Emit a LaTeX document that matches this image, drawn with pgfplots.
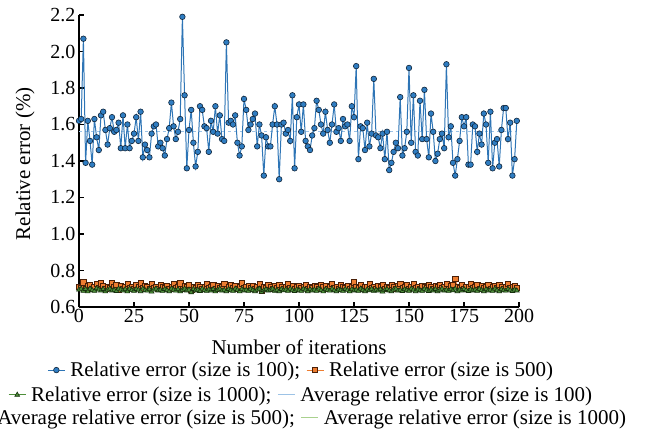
\documentclass[border=0pt]{standalone}
\usepackage{pgfplots}
\usepackage{pgfplotstable}
\pgfplotsset{compat=1.18}
\usepackage{fontspec}
\setmainfont{Liberation Serif}
\definecolor{cA}{HTML}{2E75B6}
\definecolor{cAm}{HTML}{2F7DC2}
\definecolor{cAd}{HTML}{10253A}
\definecolor{cB}{HTML}{ED7D31}
\definecolor{cBd}{HTML}{4A2008}
\definecolor{cC}{HTML}{4E8F3A}
\definecolor{cCd}{HTML}{16300E}
\definecolor{aA}{HTML}{9DC3E6}
\definecolor{aB}{HTML}{F4B183}
\definecolor{aC}{HTML}{A9D18E}
\newcommand{\tickf}{\fontsize{20bp}{24bp}\selectfont}
\newcommand{\bigf}{\fontsize{21bp}{24bp}\selectfont}
\pgfplotstableread{
i e100 e500 e1000
0 1.62 0.710 0.695
1 1.63 0.705 0.700
2 2.07 0.735 0.688
3 1.39 0.700 0.698
4 1.62 0.715 0.685
5 1.51 0.720 0.700
6 1.38 0.700 0.692
7 1.63 0.710 0.688
8 1.53 0.725 0.702
9 1.46 0.705 0.695
10 1.65 0.730 0.690
11 1.67 0.715 0.698
12 1.57 0.700 0.685
13 1.49 0.712 0.695
14 1.58 0.705 0.700
15 1.64 0.730 0.690
16 1.56 0.710 0.693
17 1.57 0.720 0.687
18 1.61 0.695 0.700
19 1.47 0.715 0.695
20 1.65 0.700 0.690
21 1.47 0.710 0.697
22 1.60 0.725 0.685
23 1.47 0.705 0.700
24 1.51 0.712 0.692
25 1.55 0.700 0.688
26 1.64 0.720 0.698
27 1.51 0.708 0.694
28 1.67 0.730 0.686
29 1.42 0.702 0.700
30 1.49 0.715 0.692
31 1.46 0.710 0.689
32 1.42 0.700 0.697
33 1.55 0.725 0.684
34 1.59 0.705 0.695
35 1.60 0.712 0.700
36 1.48 0.698 0.690
37 1.50 0.720 0.694
38 1.47 0.710 0.688
39 1.43 0.705 0.698
40 1.52 0.718 0.692
41 1.58 0.700 0.686
42 1.72 0.712 0.700
43 1.59 0.725 0.694
44 1.52 0.705 0.689
45 1.56 0.710 0.697
46 1.63 0.730 0.685
47 2.19 0.700 0.693
48 1.76 0.715 0.700
49 1.36 0.708 0.690
50 1.57 0.720 0.695
51 1.68 0.695 0.680
52 1.50 0.710 0.698
53 1.37 0.705 0.690
54 1.45 0.720 0.694
55 1.70 0.712 0.687
56 1.68 0.700 0.700
57 1.59 0.710 0.692
58 1.58 0.725 0.688
59 1.45 0.705 0.696
60 1.62 0.710 0.690
61 1.56 0.720 0.698
62 1.70 0.700 0.685
63 1.55 0.715 0.694
64 1.65 0.705 0.700
65 1.52 0.712 0.689
66 1.51 0.728 0.693
67 2.05 0.700 0.686
68 1.61 0.710 0.698
69 1.62 0.720 0.692
70 1.60 0.705 0.688
71 1.65 0.715 0.700
72 1.50 0.700 0.694
73 1.43 0.712 0.685
74 1.48 0.730 0.697
75 1.74 0.705 0.690
76 1.68 0.710 0.693
77 1.57 0.718 0.688
78 1.60 0.702 0.699
79 1.63 0.715 0.692
80 1.66 0.700 0.686
81 1.48 0.710 0.695
82 1.60 0.725 0.700
83 1.54 0.690 0.683
84 1.32 0.712 0.692
85 1.53 0.705 0.697
86 1.48 0.720 0.689
87 1.48 0.710 0.694
88 1.60 0.700 0.700
89 1.70 0.715 0.688
90 1.60 0.705 0.693
91 1.30 0.720 0.686
92 1.60 0.712 0.698
93 1.61 0.700 0.691
94 1.55 0.710 0.695
95 1.57 0.725 0.688
96 1.51 0.705 0.700
97 1.76 0.715 0.692
98 1.36 0.700 0.687
99 1.64 0.710 0.696
100 1.71 0.718 0.692
101 1.56 0.705 0.688
102 1.71 0.710 0.699
103 1.51 0.720 0.694
104 1.48 0.700 0.686
105 1.46 0.712 0.697
106 1.54 0.705 0.690
107 1.58 0.715 0.695
108 1.73 0.710 0.688
109 1.68 0.700 0.700
110 1.60 0.720 0.692
111 1.55 0.708 0.685
112 1.67 0.715 0.697
113 1.57 0.700 0.693
114 1.50 0.710 0.689
115 1.60 0.725 0.700
116 1.71 0.705 0.691
117 1.56 0.712 0.686
118 1.58 0.700 0.696
119 1.51 0.720 0.692
120 1.63 0.710 0.688
121 1.59 0.705 0.698
122 1.60 0.715 0.693
123 1.51 0.700 0.685
124 1.70 0.712 0.697
125 1.64 0.735 0.690
126 1.92 0.710 0.694
127 1.41 0.705 0.688
128 1.59 0.720 0.700
129 1.58 0.700 0.692
130 1.46 0.712 0.686
131 1.61 0.710 0.696
132 1.48 0.725 0.691
133 1.55 0.705 0.699
134 1.85 0.710 0.688
135 1.54 0.700 0.694
136 1.53 0.715 0.690
137 1.47 0.708 0.697
138 1.55 0.720 0.684
139 1.41 0.700 0.693
140 1.56 0.712 0.698
141 1.35 0.705 0.690
142 1.39 0.720 0.686
143 1.45 0.710 0.695
144 1.50 0.700 0.700
145 1.47 0.715 0.689
146 1.75 0.728 0.693
147 1.43 0.705 0.687
148 1.47 0.710 0.697
149 1.56 0.720 0.692
150 1.91 0.700 0.688
151 1.50 0.712 0.700
152 1.76 0.725 0.694
153 1.45 0.705 0.686
154 1.43 0.710 0.696
155 1.73 0.700 0.691
156 1.52 0.718 0.688
157 1.79 0.710 0.699
158 1.52 0.705 0.693
159 1.42 0.720 0.687
160 1.66 0.710 0.695
161 1.56 0.700 0.690
162 1.40 0.715 0.698
163 1.44 0.708 0.686
164 1.52 0.720 0.693
165 1.55 0.705 0.700
166 1.47 0.710 0.689
167 1.93 0.725 0.694
168 1.53 0.700 0.688
169 1.59 0.715 0.697
170 1.39 0.720 0.691
171 1.32 0.755 0.700
172 1.41 0.710 0.686
173 1.51 0.705 0.695
174 1.64 0.720 0.690
175 1.59 0.700 0.698
176 1.64 0.712 0.692
177 1.38 0.710 0.687
178 1.38 0.725 0.696
179 1.60 0.705 0.690
180 1.59 0.710 0.694
181 1.45 0.720 0.688
182 1.55 0.700 0.699
183 1.49 0.715 0.692
184 1.66 0.705 0.686
185 1.60 0.712 0.697
186 1.39 0.720 0.690
187 1.67 0.700 0.695
188 1.36 0.710 0.688
189 1.50 0.715 0.700
190 1.52 0.705 0.692
191 1.37 0.720 0.686
192 1.57 0.710 0.697
193 1.69 0.700 0.691
194 1.69 0.712 0.689
195 1.52 0.725 0.698
196 1.61 0.705 0.693
197 1.32 0.710 0.687
198 1.41 0.715 0.695
199 1.62 0.705 0.690
}\data
\pgfplotsset{
  s100/.style={color=cA, line width=1bp, mark=*, mark size=2.8bp, mark options={solid, fill=cAm, draw=cAd, line width=0.6bp}},
  s500/.style={color=cB, line width=1bp, mark=square*, mark size=2.6bp, mark options={solid, fill=cB, draw=cBd, line width=0.6bp}},
  s1000/.style={color=cC, line width=1bp, mark=triangle*, mark size=2.8bp, mark options={solid, fill=cC, draw=cCd, line width=0.6bp}},
  legax/.style={at={(0,0)}, anchor=south west, scale only axis, width=440bp, height=292bp,
    hide axis, xmin=0, xmax=1, ymin=0, ymax=1, legend columns=2,
    legend style={draw=none, fill=none, anchor=center, font=\bigf, inner sep=0pt,
      /tikz/every odd column/.append style={column sep=3bp},
      /tikz/every even column/.append style={column sep=4bp}}},
}
\begin{document}
\begin{tikzpicture}[x=1bp,y=1bp]
\path[use as bounding box] (-79,-126) rectangle (570,307);
\begin{axis}[
  at={(0,0)}, anchor=south west,
  scale only axis, width=440bp, height=292bp,
  xmin=0, xmax=200, ymin=0.6, ymax=2.2,
  axis lines=left,
  axis line style={-, line width=1.6bp},
  every tick/.style={black, line width=1.3bp},
  tick align=inside,
  major tick length=5bp,
  xtick={0,25,50,75,100,125,150,175,200},
  ytick={0.6,0.8,1.0,1.2,1.4,1.6,1.8,2.0,2.2},
  yticklabel style={/pgf/number format/.cd, fixed, fixed zerofill, precision=1},
  /pgf/number format/assume math mode=true,
  tick label style={font=\tickf},
  xticklabel style={yshift=1bp},
  label style={font=\bigf},
  xlabel={Number of iterations},
  xlabel style={at={(rel axis cs:0.5,-0.137)}, anchor=center},
  ylabel={Relative error (\%)},
  ylabel style={at={(rel axis cs:-0.1227,0.49)}, anchor=center},
  clip=false,
]
\addplot[aA, dashed, line width=1.2bp, forget plot] coordinates {(0,1.563) (199,1.563)};
\addplot[s100] table[x=i, y=e100] {\data};
\addplot[s500] table[x=i, y=e500] {\data};
\addplot[s1000] table[x=i, y=e1000] {\data};
\addplot[aB, dashed, line width=1.2bp] coordinates {(0,0.712) (199,0.712)};
\addplot[aC, dashed, line width=1.2bp] coordinates {(0,0.694) (199,0.694)};
\end{axis}
\begin{axis}[legax, legend style={at={(0.505,-0.216)}}]
\addlegendimage{s100}
\addlegendentry{Relative error (size is 100);}
\addlegendimage{s500}
\addlegendentry{Relative error (size is 500)}
\end{axis}
\begin{axis}[legax, legend style={at={(0.505,-0.301)}}]
\addlegendimage{s1000}
\addlegendentry{Relative error (size is 1000);}
\addlegendimage{aA, line width=1bp}
\addlegendentry{Average relative error (size is 100)}
\end{axis}
\begin{axis}[legax, legend style={at={(0.505,-0.380)}}]
\addlegendimage{aB, line width=1bp}
\addlegendentry{Average relative error (size is 500);}
\addlegendimage{aC, line width=1bp}
\addlegendentry{Average relative error (size is 1000)}
\end{axis}
\end{tikzpicture}
\end{document}
